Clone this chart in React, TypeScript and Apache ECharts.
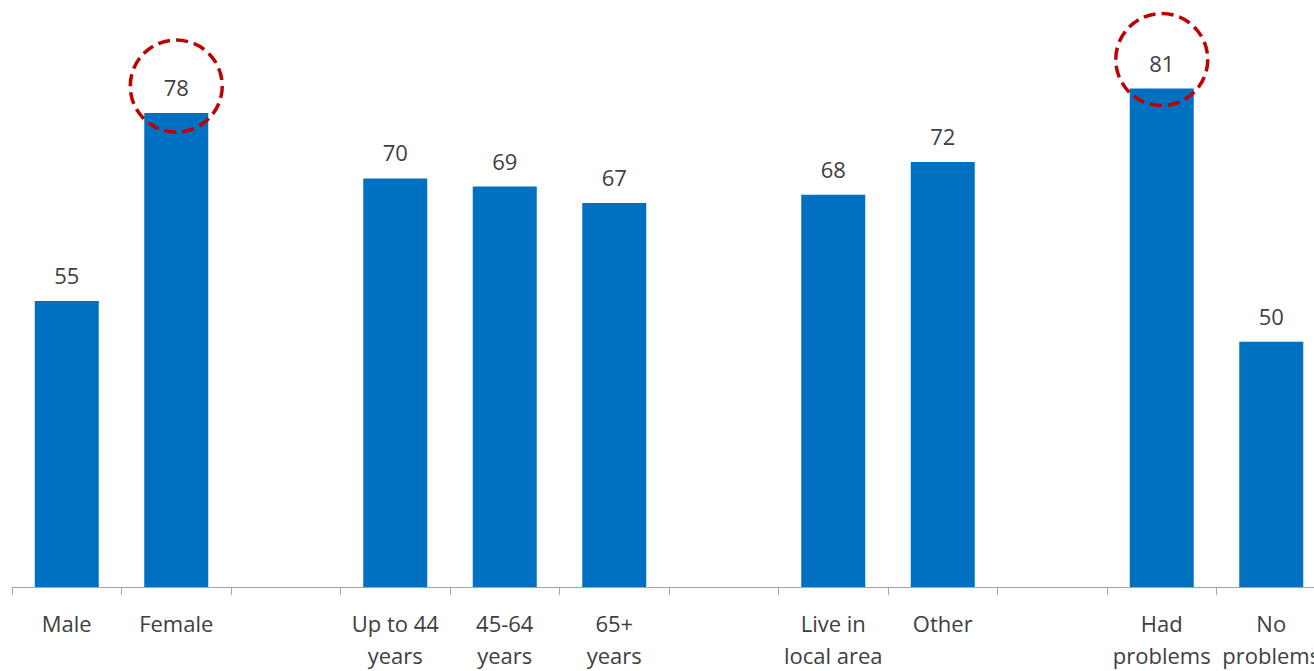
import React, { useEffect, useRef } from "react";
import * as echarts from "echarts";

const categories = [
  "Male",
  "Female",
  "",
  "Up to 44\nyears",
  "45-64\nyears",
  "65+\nyears",
  " ",
  "Live in\nlocal area",
  "Other",
  "  ",
  "Had\nproblems",
  "No\nproblems",
];
const values: (number | null)[] = [55, 78, null, 70, 69, 67, null, 68, 72, null, 81, 50];
const highlighted: { name: string; value: number; offset: number }[] = [
  { name: "Female", value: 78, offset: -27 },
  { name: "Had\nproblems", value: 81, offset: -29 },
];

export default function App() {
  const ref = useRef<HTMLDivElement>(null);
  useEffect(() => {
    if (!ref.current) return;
    const chart = echarts.init(ref.current, undefined, { renderer: "svg" });
    chart.setOption({
      animation: false,
      grid: { left: 12, right: 0, top: 15, bottom: 81, containLabel: false },
      xAxis: {
        type: "category",
        data: categories,
        axisLine: { lineStyle: { color: "#A6A6A6", width: 1 } },
        axisTick: { show: true, length: 8, alignWithLabel: false, lineStyle: { color: "#A6A6A6" } },
        axisLabel: {
          interval: 0,
          margin: 20,
          color: "#404040",
          fontSize: 22,
          lineHeight: 32,
          fontFamily: "Open Sans",
        },
      },
      yAxis: {
        type: "value",
        min: 20,
        max: 90,
        show: false,
        splitLine: { show: false },
      },
      series: [
        {
          type: "bar",
          data: values,
          barWidth: 64,
          itemStyle: { color: "#0070C0" },
          label: {
            show: true,
            position: "top",
            distance: 15,
            color: "#404040",
            fontSize: 22,
            fontFamily: "Open Sans",
          },
          markPoint: {
            symbol: "circle",
            symbolSize: 92,
            label: { show: false },
            itemStyle: {
              color: "transparent",
              borderColor: "#C00000",
              borderWidth: 3.5,
              borderType: [12, 6],
            },
            data: highlighted.map((h) => ({
              coord: [h.name, h.value],
              symbolOffset: [0, h.offset],
            })),
          },
        },
      ],
    });
    return () => chart.dispose();
  }, []);
  return (
    <div style={{ position: "fixed", left: 0, top: 0, width: 1314, height: 671, overflow: "hidden", background: "#fff" }}>
      <div ref={ref} style={{ width: 1326, height: 671 }} />
    </div>
  );
}
